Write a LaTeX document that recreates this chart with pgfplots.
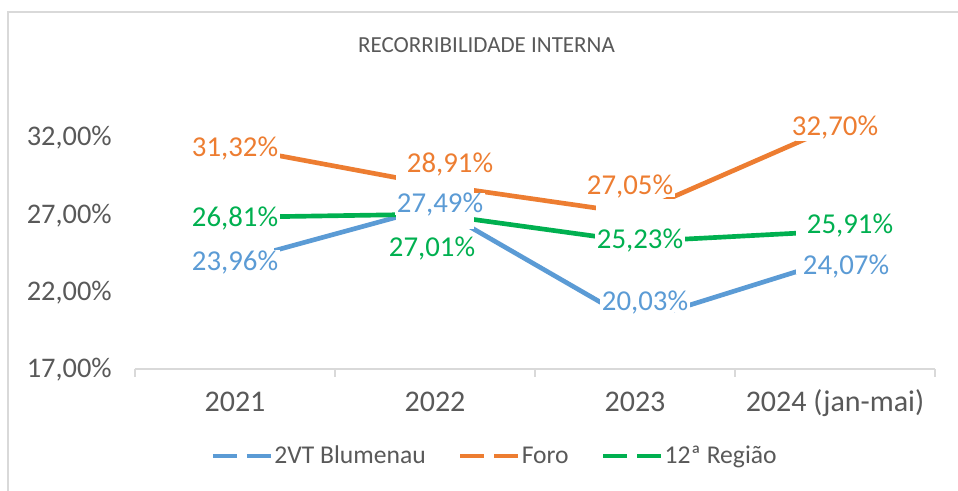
\documentclass[border=0pt]{standalone}
\usepackage{pgfplots}
\pgfplotsset{compat=1.18}
\usepackage{pgfplotstable}
\usepackage{fontspec}
\setmainfont{Carlito}
\definecolor{cblue}{HTML}{5B9BD5}
\definecolor{corange}{HTML}{ED7D31}
\definecolor{cgreen}{HTML}{00B050}
\definecolor{ctext}{HTML}{595959}
\definecolor{cgrid}{HTML}{D9D9D9}

% dx, dy: label offsets in pixels (dy upward)
\pgfplotstableread{
x y dx dy
0 23.96 0 0
1 27.49 5 3
2 20.03 10 21
3 24.07 11 -6
}\blueT
\pgfplotstableread{
x y dx dy
0 31.32 0 0
1 28.91 15 21
2 27.05 -5 28
3 32.70 0 0
}\orangeT
\pgfplotstableread{
x y dx dy
0 26.81 0 0
1 27.01 -3 -33
2 25.23 5 2
3 25.91 15 7
}\greenT

\pgfplotsset{
  maskstyle/.style={draw=none, forget plot, point meta=y,
    nodes near coords={\strut},
    every node near coord/.style={anchor=center, fill=white, inner sep=0pt,
      minimum width=58.5pt, minimum height=22pt}},
  labstyle/.style={draw=none, forget plot, point meta=y,
    nodes near coords={\pgfmathprintnumber[fixed,fixed zerofill,precision=2,use comma]{\pgfplotspointmeta}\%},
    visualization depends on={\thisrow{dx} \as \dx},
    visualization depends on={\thisrow{dy} \as \dy},
    every node near coord/.style={anchor=center, fill=white, inner sep=1.5pt,
      text height=13.6pt, text depth=0pt,
      font=\fontsize{21.6}{24}\selectfont, text=#1,
      xshift={\dx*0.75pt}, yshift={\dy*0.75pt}}},
}

\begin{document}
\begin{tikzpicture}
\useasboundingbox[fill=white] (0,0) rectangle (718.5pt,368.25pt);
\draw[cgrid, line width=1.1pt] (6pt,0) -- (6pt,359.25pt) -- (718.5pt,359.25pt);
\node[anchor=center, inner sep=0pt, text height=11pt, text depth=0pt, text=ctext,
  font=\fontsize{17.25}{20}\selectfont] at (364.9pt,334.5pt) {RECORRIBILIDADE INTERNA};
\begin{axis}[
  at={(101.25pt,91.5pt)}, anchor=south west,
  scale only axis, width=600pt, height=232pt,
  xmin=-0.5, xmax=3.5, ymin=17, ymax=37,
  xtick={0,1,2,3}, xticklabels={2021,2022,2023,2024 (jan-mai)},
  minor xtick={-0.5,0.5,1.5,2.5,3.5},
  ytick={17,22,27,32},
  axis x line*=bottom, axis y line*=left,
  y axis line style={draw=none},
  x axis line style={-, draw=cgrid, line width=1.1pt},
  major tick length=0pt,
  minor tick length=6pt,
  tick align=outside,
  minor tick style={draw=cgrid, line width=1.1pt},
  ytick style={draw=none},
  /pgf/number format/assume math mode=true,
  yticklabel={\pgfmathprintnumber[fixed,fixed zerofill,precision=2,use comma]{\tick}\%},
  yticklabel style={anchor=east, inner sep=0pt, xshift=-17.25pt, text height=13.4pt, text depth=0pt,
    font=\fontsize{21.3}{24}\selectfont, text=ctext},
  xticklabel style={anchor=north, inner sep=0pt, yshift=-18pt, text height=14pt, text depth=3pt,
    font=\fontsize{22.5}{26}\selectfont, text=ctext},
  clip=false,
  legend columns=3,
  legend style={at={(0.449,-0.281)}, anchor=center, draw=none, fill=none, inner sep=0pt,
    font=\fontsize{19.2}{22}\selectfont, text=ctext,
    nodes={inner sep=1pt},
    /tikz/every even column/.append style={column sep=23pt}},
  legend cell align=left,
  legend image code/.code={\draw[#1, dash pattern=on 18pt off 7.5pt] (0pt,0pt) -- (43.5pt,0pt);},
]
\addplot[cblue, line width=3.5pt] table[x=x,y=y]{\blueT};
\addlegendentry{2VT Blumenau}
\addplot[corange, line width=3.5pt] table[x=x,y=y]{\orangeT};
\addlegendentry{Foro}
\addplot[cgreen, line width=3.5pt] table[x=x,y=y]{\greenT};
\addlegendentry{12ª Região}

\addplot[maskstyle] table[x=x,y=y]{\blueT};
\addplot[maskstyle] table[x=x,y=y]{\orangeT};
\addplot[maskstyle] table[x=x,y=y]{\greenT};

\addplot[labstyle=cblue] table[x=x,y=y]{\blueT};
\addplot[labstyle=corange] table[x=x,y=y]{\orangeT};
\addplot[labstyle=cgreen] table[x=x,y=y]{\greenT};
\end{axis}
\end{tikzpicture}
\end{document}
